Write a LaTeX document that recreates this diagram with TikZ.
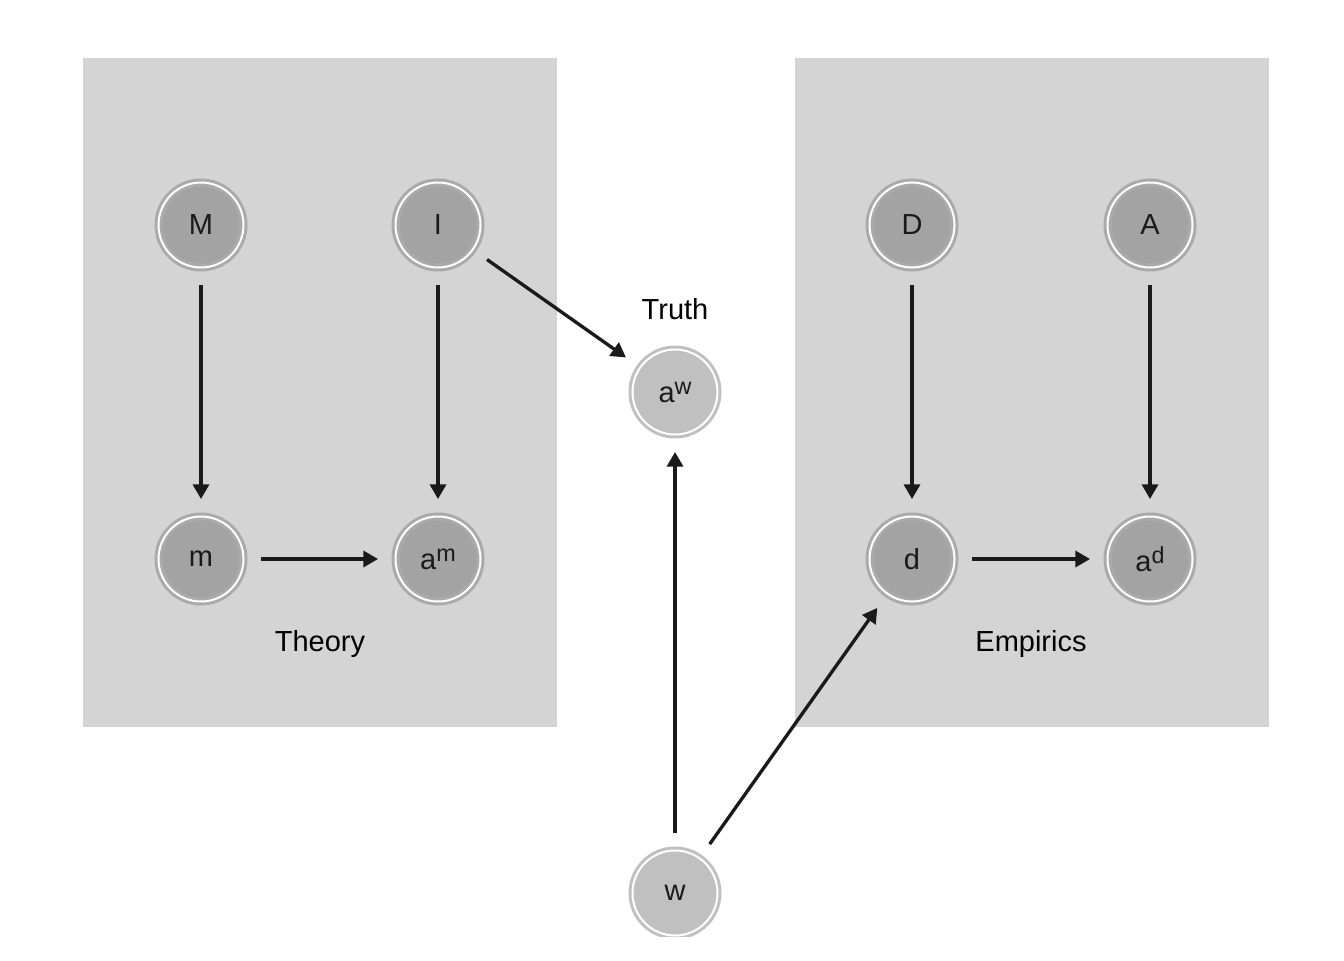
\documentclass[tikz,border=0pt]{standalone}
\usepackage{fontspec}
\setmainfont{Liberation Sans}
\usetikzlibrary{arrows.meta}

\definecolor{clusterfill}{HTML}{D4D4D4}
\definecolor{darkfill}{HTML}{A3A3A3}
\definecolor{darkring}{HTML}{AAAAAA}
\definecolor{lightfill}{HTML}{C0C0C0}
\definecolor{lightring}{HTML}{C0C0C0}
\definecolor{inkgray}{HTML}{1A1A1A}

\newcommand{\sups}[1]{\raisebox{6pt}{\fontsize{17.5}{20}\selectfont #1}}

\tikzset{every picture/.style={line width=0.75pt}}
\tikzset{
	var/.style={circle, minimum size=63.75pt, inner sep=0pt, outer sep=13.1pt,
		line width=2.25pt, double=white, double distance=1.5pt,
		font=\fontsize{21.75}{26}\selectfont, text=inkgray},
	darkvar/.style={var, draw=darkring, fill=darkfill},
	lightvar/.style={var, draw=lightring, fill=lightfill},
	label/.style={font=\fontsize{21.75}{26}\selectfont, text=black},
	edge/.style={draw=inkgray, line width=2.5pt, -{Triangle[length=11pt,width=12pt]}}
}

\begin{document}
\begin{tikzpicture}[x=0.75pt,y=0.75pt,yscale=-1,xscale=1]
	\useasboundingbox (0,0) rectangle (1344,960);
	\clip (0,0) rectangle (1344,936);

	%Shape: Rectangle [id:theory]
	\fill[clusterfill] (83,58) rectangle (557,727);
	%Shape: Rectangle [id:empirics]
	\fill[clusterfill] (795,58) rectangle (1269,727);

	%Shape: Circle [id:M]
	\node[darkvar] (M) at (201,225) {M};
	%Shape: Circle [id:I]
	\node[darkvar] (I) at (438,225) {I};
	%Shape: Circle [id:m]
	\node[darkvar] (m) at (201,559) {m};
	%Shape: Circle [id:am]
	\node[darkvar] (am) at (438,559) {a\sups{m}};
	%Shape: Circle [id:D]
	\node[darkvar] (D) at (912,225) {D};
	%Shape: Circle [id:A]
	\node[darkvar] (A) at (1150,225) {A};
	%Shape: Circle [id:d]
	\node[darkvar] (d) at (912,559) {d};
	%Shape: Circle [id:ad]
	\node[darkvar] (ad) at (1150,559) {a\sups{d}};
	%Shape: Circle [id:aw]
	\node[lightvar] (aw) at (675,392) {a\sups{w}};
	%Shape: Circle [id:w]
	\node[lightvar] (w) at (675,893) {w};

	% Text Node
	\node[label] (truth) at (675,309) {Truth};
	% Text Node
	\node[label] (theory) at (320,644) {Theory};
	% Text Node
	\node[label] (empirics) at (1031,644) {Empirics};

	%Straight Lines
	\draw[edge] (M) -- (m);
	\draw[edge] (I) -- (am);
	\draw[edge] (m) -- (am);
	\draw[edge] (D) -- (d);
	\draw[edge] (A) -- (ad);
	\draw[edge] (d) -- (ad);
	\draw[edge] (I) -- (aw);
	\draw[edge] (w) -- (aw);
	\draw[edge] (w) -- (d);

\end{tikzpicture}
\end{document}
